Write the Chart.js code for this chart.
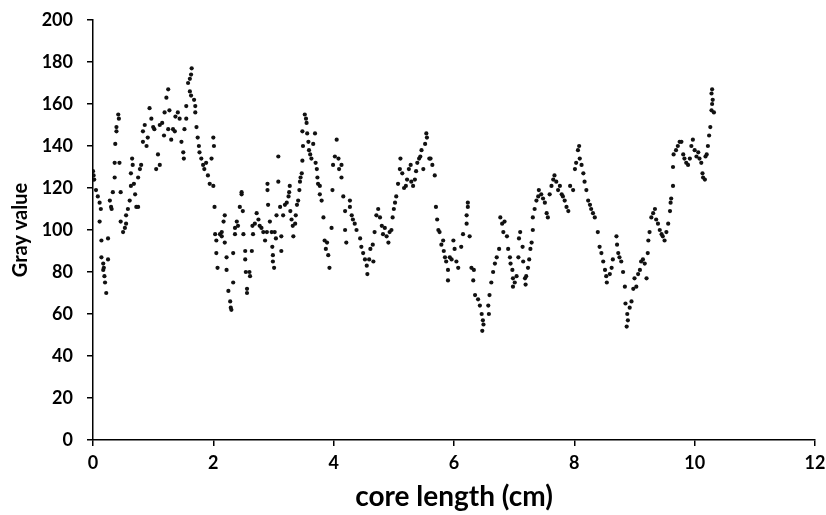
<!DOCTYPE html>
<html>
<head>
<meta charset="utf-8">
<title>Gray value vs core length</title>
<script src="https://cdn.jsdelivr.net/npm/chart.js@4.4.1/dist/chart.umd.min.js"></script>
<style>
  html, body { margin: 0; padding: 0; background: #fff; }
  #wrap { width: 826px; height: 515px; }
</style>
</head>
<body>
<div id="wrap"><canvas id="myChart" width="826" height="515"></canvas></div>
<script>
// core length (cm) and gray value
const coreLength = [
  0.00, 0.01, 0.02, 0.05, 0.08, 0.11, 0.13, 0.11, 0.14, 0.14, 0.17, 0.17, 0.18, 0.19, 0.20, 0.22, 0.25, 0.25,
  0.28, 0.30, 0.31, 0.33, 0.36, 0.36, 0.37, 0.39, 0.39, 0.42, 0.43, 0.44, 0.46, 0.46, 0.50, 0.53, 0.55, 0.55,
  0.58, 0.61, 0.63, 0.63, 0.65, 0.66, 0.68, 0.70, 0.72, 0.75, 0.75, 0.78, 0.80, 0.83, 0.83, 0.86, 0.89, 0.91,
  0.94, 0.97, 1.00, 1.02, 1.05, 1.08, 1.11, 1.11, 1.15, 1.18, 1.19, 1.22, 1.25, 1.25, 1.27, 1.30, 1.33, 1.36,
  1.37, 1.41, 1.44, 1.47, 1.50, 1.51, 1.52, 1.55, 1.55, 1.58, 1.61, 1.63, 1.64, 1.61, 1.63, 1.68, 1.70, 1.70,
  1.72, 1.74, 1.76, 1.77, 1.80, 1.83, 1.85, 1.88, 1.91, 1.94, 1.97, 2.00, 2.01, 2.00, 2.02, 2.03, 2.05, 2.05, 2.07,
  2.11, 2.14, 2.14, 2.17, 2.19, 2.19, 2.22, 2.22, 2.25, 2.28, 2.29, 2.30, 2.33, 2.33, 2.36, 2.36, 2.39, 2.41,
  2.44, 2.47, 2.47, 2.49, 2.50, 2.53, 2.53, 2.54, 2.56, 2.56, 2.60, 2.61, 2.64, 2.65, 2.66, 2.69, 2.72, 2.75,
  2.77, 2.80, 2.83, 2.86, 2.89, 2.90, 2.90, 2.91, 2.94, 2.97, 2.98, 2.99, 2.99, 3.01, 3.02, 3.04, 3.05, 3.08,
  3.08, 3.11, 3.13, 3.13, 3.16, 3.19, 3.22, 3.25, 3.26, 3.27, 3.28, 3.30, 3.32, 3.33, 3.36, 3.37, 3.39, 3.41,
  3.43, 3.44, 3.45, 3.47, 3.48, 3.49, 3.48, 3.52, 3.54, 3.55, 3.56, 3.58, 3.59, 3.61, 3.63, 3.66, 3.69, 3.70,
  3.72, 3.73, 3.74, 3.77, 3.77, 3.80, 3.83, 3.85, 3.87, 3.89, 3.91, 3.93, 3.965, 3.98, 3.99, 4.02, 4.05, 4.08, 4.09,
  4.13, 4.13, 4.16, 4.19, 4.19, 4.21, 4.27, 4.27, 4.30, 4.32, 4.35, 4.38, 4.44, 4.46, 4.49, 4.52, 4.55, 4.56,
  4.59, 4.61, 4.65, 4.66, 4.68, 4.71, 4.74, 4.77, 4.80, 4.82, 4.85, 4.88, 4.91, 4.93, 4.96, 4.98, 5.00, 5.02,
  5.04, 5.07, 5.10, 5.11, 5.14, 5.17, 5.20, 5.22, 5.25, 5.28, 5.29, 5.32, 5.35, 5.37, 5.39, 5.42, 5.44, 5.46,
  5.49, 5.52, 5.54, 5.55, 5.59, 5.61, 5.64, 5.68, 5.70, 5.72, 5.74, 5.76, 5.79, 5.82, 5.83, 5.85, 5.87, 5.90,
  5.90, 5.93, 5.96, 5.99, 6.01, 6.04, 6.07,
  6.12, 6.15, 6.21, 6.21, 6.23, 6.23, 6.26, 6.29, 6.32, 6.33, 6.35, 6.40, 6.43, 6.46, 6.48, 6.49, 6.47, 6.57,
  6.58, 6.59, 6.62, 6.65, 6.68, 6.71, 6.75, 6.77, 6.80, 6.84, 6.82, 6.88, 6.90, 6.93, 6.94, 6.97, 6.98, 6.98,
  7.01, 7.04, 7.07, 7.08, 7.10, 7.14, 7.15, 7.18, 7.19, 7.20, 7.23, 7.25, 7.27, 7.29, 7.31, 7.31, 7.34, 7.37,
  7.40, 7.41, 7.45, 7.48, 7.51, 7.54, 7.56, 7.59, 7.62, 7.65, 7.67, 7.70, 7.73, 7.76, 7.79, 7.81, 7.84, 7.87,
  7.90, 7.93, 7.98, 8.01, 8.03, 8.06, 8.08,
  8.09, 8.12, 8.15, 8.17, 8.20, 8.23, 8.26, 8.28, 8.31, 8.34, 8.39, 8.42, 8.45, 8.48, 8.51, 8.53, 8.54, 8.59,
  8.62, 8.64, 8.70, 8.71, 8.73, 8.75, 8.78, 8.81, 8.84, 8.85, 8.88, 8.89, 8.87, 8.92, 8.95, 8.98, 9.00, 9.03,
  9.06, 9.09, 9.11, 9.14, 9.17, 9.20, 9.22, 9.23, 9.25, 9.28, 9.31, 9.34, 9.36, 9.39, 9.42, 9.45, 9.47, 9.50,
  9.53, 9.56, 9.59, 9.60, 9.61, 9.64, 9.64, 9.65, 9.69, 9.72, 9.75, 9.78, 9.81, 9.83, 9.86, 9.89, 9.92, 9.945,
  9.97, 10.00, 10.03, 10.06,
  10.08, 10.11, 10.13, 10.14, 10.17, 10.18, 10.20, 10.22, 10.24, 10.26, 10.28, 10.29, 10.30, 10.28, 10.29, 10.32
];
const grayValue = [
  128, 126, 124, 119, 116, 113, 110, 104, 95, 87, 84, 81, 82, 78, 75, 70, 96, 86,
  114, 111, 110, 118, 125, 132, 141, 149, 147, 155, 153, 132, 118, 104, 99, 101, 107, 103,
  110, 114, 121, 127, 134, 131, 122, 117, 111, 111, 125, 129, 131, 142, 147, 150, 140, 144,
  158, 153, 149, 148, 129, 136, 131, 150, 151, 145, 156, 163, 167, 148, 157, 143, 148, 147,
  154, 156, 153, 142, 137, 134, 148, 153, 159, 170, 172, 174, 177, 166, 164, 162, 159, 156,
  149, 144, 140, 137, 134, 131, 129, 132, 126, 122, 134, 144, 140, 121, 111, 98, 95, 89, 82,
  98, 97, 99, 104, 107, 94, 87, 81, 71, 66, 63, 62, 89, 75, 98, 101, 104, 102,
  111, 117, 118, 109, 98, 90, 86, 80, 72, 70, 80, 78, 90, 102, 98, 103, 108, 105,
  102, 101, 99, 95, 99, 122, 119, 112, 104, 99, 92, 88, 85, 82, 99, 96, 107, 123,
  135, 111, 97, 90, 107, 112, 113, 116, 118, 121, 109, 105, 102, 97, 103, 107, 112, 114,
  119, 123, 125, 127, 133, 140, 147, 155, 153, 151, 146, 142, 138, 136, 134, 141, 146, 132,
  129, 125, 122, 121, 117, 114, 106, 95, 91, 94, 88, 82, 101, 119, 131, 135, 143, 134, 129,
  131, 125, 116, 109, 100, 94, 114, 111, 107, 105, 103, 100, 96, 92, 89, 86, 83, 79,
  86, 91, 93, 85, 99, 107, 110, 106, 102, 98, 101, 97, 94, 99, 100, 106, 110, 113,
  116, 122, 129, 134, 127, 120, 121, 124, 129, 131, 123, 121, 124, 128, 132, 134, 135, 138,
  129, 141, 146, 144, 134, 134, 131, 126, 111, 105, 100, 99, 93, 95, 90, 87, 85, 81,
  76, 87, 86, 95, 91, 85, 82,
  92, 98, 107, 103, 113, 111, 97, 82, 76, 81, 69, 67, 64, 60, 57, 55, 52, 64,
  60, 69, 75, 80, 84, 87, 91, 106, 103, 104, 99, 97, 91, 87, 84, 81, 77, 73,
  75, 78, 87, 96, 99, 92, 85, 77, 74, 78, 82, 86, 91, 94, 100, 106, 110, 114,
  116, 119, 117, 115, 113, 108, 106, 117, 121, 124, 126, 123, 119, 121, 117, 116, 114, 111,
  109, 121, 119, 129, 132, 138, 140,
  134, 131, 127, 123, 119, 114, 112, 110, 108, 106, 99, 92, 89, 85, 81, 78, 75, 79,
  82, 86, 97, 93, 89, 87, 85, 80, 73, 65, 60, 57, 54, 63, 66, 72, 77, 73,
  79, 81, 85, 86, 84, 77, 89, 95, 99, 106, 108, 110, 105, 103, 100, 98, 97, 95,
  99, 103, 109, 113, 115, 121, 130, 136, 138, 140, 142, 142, 136, 134, 132, 131, 134, 140,
  143, 138, 135, 137,
  134, 132, 127, 125, 124, 135, 136, 140, 145, 149, 157, 160, 162, 165, 167, 156
];
const xTicks = [0, 2, 4, 6, 8, 10, 12];
const yTicks = [0, 20, 40, 60, 80, 100, 120, 140, 160, 180, 200];

Chart.defaults.font.family = 'Lato';
Chart.defaults.color = '#000';

const points = coreLength.map(function(x, i) {
    return { x: x, y: grayValue[i] };
});

const ctx = document.getElementById('myChart').getContext('2d');
const myChart = new Chart(ctx, {
    type: 'scatter',
    data: {
        datasets: [{
            label: 'Gray value',
            data: points,
            pointRadius: 2.1,
            pointHoverRadius: 2.1,
            backgroundColor: '#111',
            borderColor: '#111',
            borderWidth: 0
        }]
    },
    options: {
        responsive: false,
        animation: false,
        layout: {
            padding: { top: 20, right: 11, left: 0, bottom: 0 }
        },
        plugins: {
            legend: { display: false },
            tooltip: { enabled: false }
        },
        scales: {
            x: {
                type: 'linear',
                min: 0,
                max: 12,
                afterBuildTicks: function(scale) {
                    scale.ticks = xTicks.map(function(v) { return { value: v }; });
                },
                afterFit: function(scale) {
                    scale.height = 75;
                    scale.paddingLeft = 0;
                    scale.paddingRight = 0;
                },
                grid: { drawOnChartArea: false, color: '#000', tickLength: 6, lineWidth: 1.5 },
                border: { color: '#000', width: 1.5 },
                ticks: { color: '#000', padding: 6, maxRotation: 0, font: { size: 18, weight: 'bold' } },
                title: {
                    display: true,
                    text: 'core length (cm)',
                    color: '#000',
                    padding: { top: 0, bottom: 1 },
                    font: { size: 28, weight: 'bold' }
                }
            },
            y: {
                type: 'linear',
                min: 0,
                max: 200,
                afterBuildTicks: function(scale) {
                    scale.ticks = yTicks.map(function(v) { return { value: v }; });
                },
                afterFit: function(scale) {
                    scale.width = 93;
                    scale.paddingTop = 0;
                    scale.paddingBottom = 0;
                },
                grid: { drawOnChartArea: false, color: '#000', tickLength: 6, lineWidth: 1.5 },
                border: { color: '#000', width: 1.5 },
                ticks: { color: '#000', padding: 14, font: { size: 18, weight: 'bold' } },
                title: {
                    display: true,
                    text: 'Gray value',
                    color: '#000',
                    padding: { top: 9, bottom: 0 },
                    font: { size: 20, weight: 'bold' }
                }
            }
        }
    }
});
</script>
</body>
</html>
